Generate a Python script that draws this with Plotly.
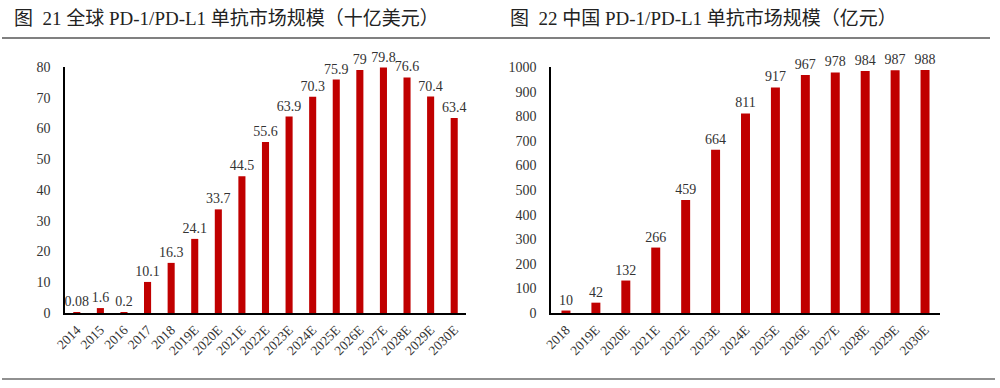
import plotly.graph_objects as go

cats_global = ["2014", "2015", "2016", "2017", "2018", "2019E", "2020E", "2021E", "2022E",
               "2023E", "2024E", "2025E", "2026E", "2027E", "2028E", "2029E", "2030E"]
vals_global = [0.08, 1.6, 0.2, 10.1, 16.3, 24.1, 33.7, 44.5, 55.6, 63.9, 70.3, 75.9, 79, 79.8, 76.6, 70.4, 63.4]
labels_global = ["0.08", "1.6", "0.2", "10.1", "16.3", "24.1", "33.7", "44.5", "55.6", "63.9",
                 "70.3", "75.9", "79", "79.8", "76.6", "70.4", "63.4"]

cats_china = ["2018", "2019E", "2020E", "2021E", "2022E", "2023E", "2024E", "2025E", "2026E",
              "2027E", "2028E", "2029E", "2030E"]
vals_china = [10, 42, 132, 266, 459, 664, 811, 917, 967, 978, 984, 987, 988]

title_left = "图  21 全球 PD-1/PD-L1 单抗市场规模（十亿美元）"
title_right = "图  22 中国 PD-1/PD-L1 单抗市场规模（亿元）"

BAR = "#C00000"
FONT = "Liberation Serif, Times New Roman, Noto Sans CJK SC, serif"
TXT = "#333333"

fig = go.Figure()
fig.add_trace(go.Bar(x=cats_global, y=vals_global, text=labels_global, textposition="outside",
                     constraintext="none",
                     marker=dict(color=BAR, line=dict(width=0)), cliponaxis=False,
                     textfont=dict(family=FONT, size=14, color=TXT), xaxis="x", yaxis="y"))
fig.add_trace(go.Bar(x=cats_china, y=vals_china, text=[str(v) for v in vals_china], textposition="outside",
                     constraintext="none",
                     marker=dict(color=BAR, line=dict(width=0)), cliponaxis=False,
                     textfont=dict(family=FONT, size=14, color=TXT), xaxis="x2", yaxis="y2"))

ydom = [75/388, 321/388]
axis_common = dict(showgrid=False, zeroline=False, ticks="", showline=True, linecolor="#000000",
                   linewidth=1.5, automargin=False, tickfont=dict(family=FONT, size=13.5, color=TXT))
fig.update_layout(
    width=1000, height=388, margin=dict(l=0, r=0, t=0, b=0, autoexpand=False),
    paper_bgcolor="white", plot_bgcolor="white", showlegend=False, bargap=0.7,
    xaxis=dict(domain=[0.065, 0.466], anchor="y", tickangle=-45, **axis_common),
    yaxis=dict(domain=ydom, anchor="x", range=[0, 80], dtick=10, **axis_common),
    xaxis2=dict(domain=[0.551, 0.940], anchor="y2", tickangle=-45, **axis_common),
    yaxis2=dict(domain=ydom, anchor="x2", range=[0, 1000], dtick=100, **axis_common),
)
fig.update_yaxes(ticklabelstandoff=10, tickfont=dict(size=14))
fig.update_xaxes(ticklabelstandoff=2)

fig.add_annotation(text=title_left, x=0.012, y=1 - 18/388, xref="paper", yref="paper",
                   xanchor="left", yanchor="middle", showarrow=False,
                   font=dict(family=FONT, size=19, color="#222222"))
fig.add_annotation(text=title_right, x=0.508, y=1 - 18/388, xref="paper", yref="paper",
                   xanchor="left", yanchor="middle", showarrow=False,
                   font=dict(family=FONT, size=19, color="#222222"))
fig.add_shape(type="line", xref="paper", yref="paper", x0=0.002, x1=0.99, y0=1 - 38/388, y1=1 - 38/388,
              line=dict(color="#808080", width=2))
fig.add_shape(type="line", xref="paper", yref="paper", x0=0.002, x1=0.995, y0=1 - 379/388, y1=1 - 379/388,
              line=dict(color="#909090", width=2))

fig.write_html("out.html", config={"displayModeBar": False},
               post_script="document.body.style.margin='0';document.body.style.overflow='hidden';")
